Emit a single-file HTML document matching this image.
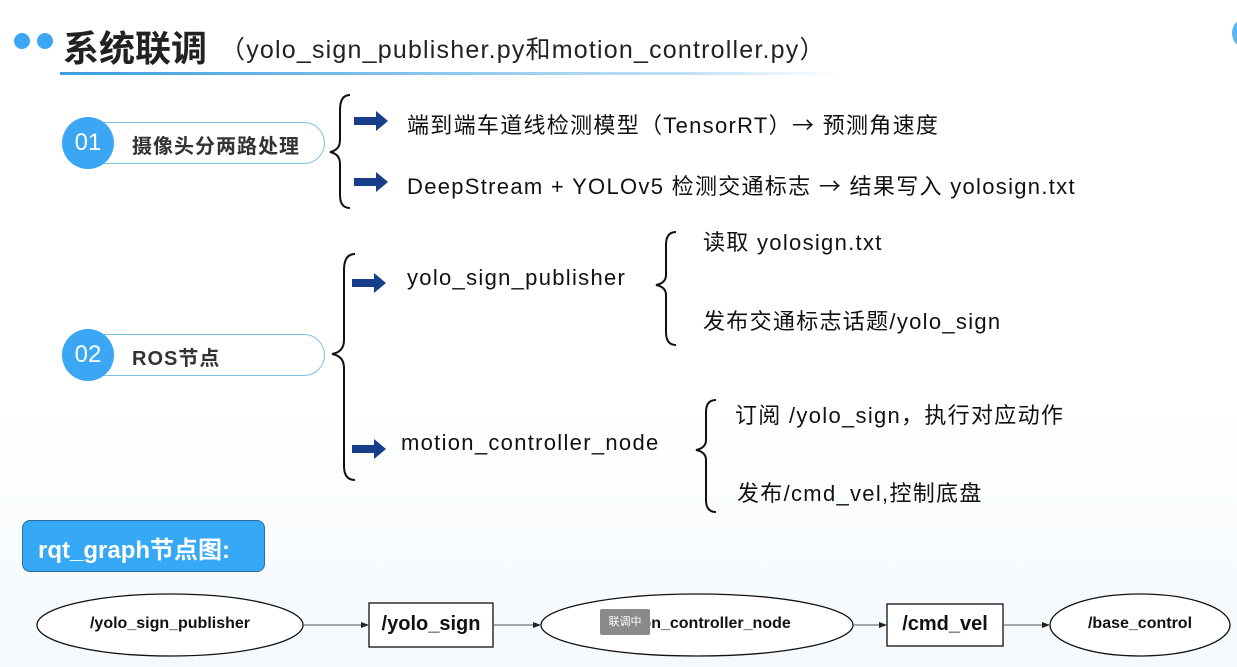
<!DOCTYPE html>
<html><head><meta charset="utf-8"><style>
body{margin:0;width:1237px;height:667px;overflow:hidden;background:#fff;font-family:"Liberation Sans","Noto Sans CJK SC",sans-serif;position:relative}
.a{position:absolute;white-space:nowrap}
.t{font-size:22px;color:#111;letter-spacing:1.3px}
.r{font-family:"Noto Sans CJK SC",sans-serif}
</style></head><body>
<div style="position:absolute;left:0;top:0;width:1237px;height:667px;background:linear-gradient(180deg,#fff 0%,#fff 60%,#f3f9fd 100%)"></div>
<div class="a" style="left:14px;top:33px;width:16px;height:16px;border-radius:50%;background:#3aa6f4"></div>
<div class="a" style="left:37px;top:33px;width:16px;height:16px;border-radius:50%;background:#3aa6f4"></div>
<div class="a" style="left:63px;top:20px;font-size:36px;font-weight:bold;color:#222">系统联调</div>
<div class="a" style="left:220px;top:30px;font-size:25px;color:#222;letter-spacing:1.2px">（yolo_sign_publisher.py和motion_controller.py）</div>
<div class="a" style="left:60px;top:72px;width:780px;height:3px;background:linear-gradient(90deg,#3a9ee0,#bfe0f6 80%,#fff)"></div>

<div class="a" style="left:80px;top:122px;width:243px;height:40px;border:1.5px solid #7cc0e6;border-radius:21px"></div>
<div class="a" style="left:62px;top:117px;width:52px;height:52px;border-radius:50%;background:#3aa6f4;color:#fff;font-size:24px;text-align:center;line-height:52px">01</div>
<div class="a" style="left:132px;top:130px;font-size:20px;font-weight:bold;color:#333;letter-spacing:1px">摄像头分两路处理</div>
<div class="a" style="left:80px;top:334px;width:243px;height:40px;border:1.5px solid #7cc0e6;border-radius:21px"></div>
<div class="a" style="left:62px;top:329px;width:52px;height:52px;border-radius:50%;background:#3aa6f4;color:#fff;font-size:24px;text-align:center;line-height:52px">02</div>
<div class="a" style="left:132px;top:342px;font-size:20px;font-weight:bold;color:#333;letter-spacing:1px">ROS节点</div>

<svg class="a" style="left:0;top:0" width="1237" height="667">
<defs><marker id="m" markerWidth="8" markerHeight="8" refX="7" refY="4" orient="auto"><path d="M0,1 L8,4 L0,7z" fill="#222"/></marker>
<g id="ar"><path d="M0,-4 H22 V-10 L34,0 L22,10 V4 H0Z" fill="#163e8a"/></g></defs>
<g fill="none" stroke="#111" stroke-width="2">
<path d="M350,95 Q340,95 340,110 V140 Q340,150 330,152 Q340,154 340,164 V195 Q340,208 350,208"/>
<path d="M355,254 Q344,254 344,270 V340 Q344,352 332,354 Q344,356 344,368 V466 Q344,480 355,480"/>
<path d="M676,232 Q666,232 666,245 V275 Q666,283 656,285 Q666,287 666,295 V332 Q666,345 676,345"/>
<path d="M716,400 Q706,400 706,412 V440 Q706,448 696,450 Q706,452 706,460 V500 Q706,512 716,512"/>
</g>
<use href="#ar" x="354" y="121"/><use href="#ar" x="354" y="182"/>
<use href="#ar" x="352" y="283"/><use href="#ar" x="352" y="449"/>
<g fill="#fff" stroke="#111" stroke-width="1.3">
<ellipse cx="170" cy="625" rx="133" ry="31"/>
<rect x="369" y="603" width="124" height="44"/>
<ellipse cx="697" cy="625" rx="156" ry="31"/>
<rect x="887" y="604" width="116" height="42"/>
<ellipse cx="1140" cy="625" rx="90" ry="31"/>
</g>
<g stroke="#555" stroke-width="1" marker-end="url(#m)">
<line x1="303" y1="625" x2="368" y2="625"/><line x1="493" y1="625" x2="540" y2="625"/>
<line x1="853" y1="625" x2="886" y2="625"/><line x1="1003" y1="625" x2="1049" y2="625"/>
</g>
</svg>
<div class="a t" style="left:407px;top:108px">端到端车道线检测模型（TensorRT）<span class="r">→</span> 预测角速度</div>
<div class="a t" style="left:407px;top:169px">DeepStream + YOLOv5 检测交通标志 <span class="r">→</span> 结果写入 yolosign.txt</div>
<div class="a t" style="left:407px;top:265px">yolo_sign_publisher</div>
<div class="a t" style="left:703px;top:225px">读取 yolosign.txt</div>
<div class="a t" style="left:703px;top:304px">发布交通标志话题/yolo_sign</div>
<div class="a t" style="left:401px;top:430px">motion_controller_node</div>
<div class="a t" style="left:735px;top:398px">订阅 /yolo_sign，执行对应动作</div>
<div class="a t" style="left:737px;top:476px">发布/cmd_vel,控制底盘</div>

<div class="a" style="left:22px;top:520px;width:241px;height:50px;background:#35a9f5;border:1.5px solid #2a6ea0;border-radius:8px"></div>
<div class="a" style="left:38px;top:530px;font-size:24px;font-weight:bold;color:#fff">rqt_graph节点图:</div>

<div class="a" style="left:37px;top:615px;width:266px;text-align:center;font-size:16px;font-weight:bold;color:#111">/yolo_sign_publisher</div>
<div class="a" style="left:369px;top:613px;width:124px;text-align:center;font-size:20px;font-weight:bold;color:#111">/yolo_sign</div>
<div class="a" style="left:541px;top:615px;width:312px;text-align:center;font-size:16px;font-weight:bold;color:#111">/motion_controller_node</div>
<div class="a" style="left:600px;top:609px;width:50px;height:26px;background:#8a8a8a;border-radius:2px;color:#fff;font-size:11px;text-align:center;line-height:26px">联调中</div>
<div class="a" style="left:887px;top:613px;width:116px;text-align:center;font-size:20px;font-weight:bold;color:#111">/cmd_vel</div>
<div class="a" style="left:1050px;top:615px;width:180px;text-align:center;font-size:16px;font-weight:bold;color:#111">/base_control</div>
<div class="a" style="left:1232px;top:20px;width:20px;height:26px;border-radius:50%;background:#5ab6f0"></div>
</body></html>
